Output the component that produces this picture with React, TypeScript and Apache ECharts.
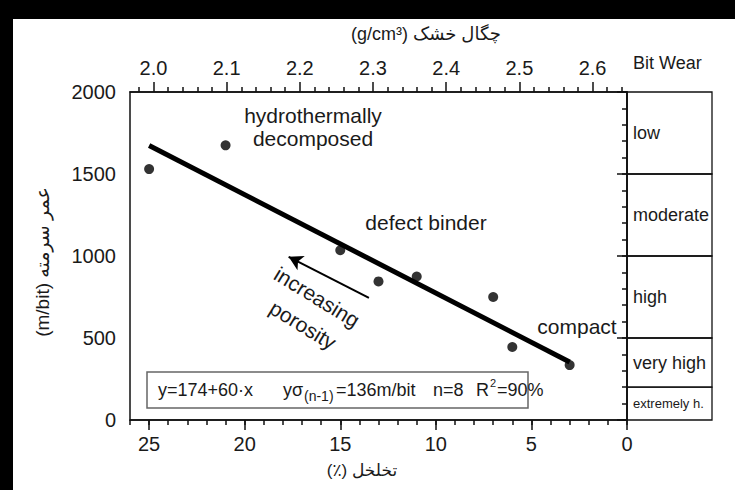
import React, { useEffect, useRef } from "react";
import * as echarts from "echarts";

// ---- data ----
const porosity = [25, 21, 15, 13, 11, 7, 6, 3];
const rop = [1530, 1675, 1035, 845, 875, 750, 445, 335];
const fitPorosity = [25, 3];
const fitRop = [1674, 354];
const arrowFrom = [13.5, 745];
const arrowTo = [17.7, 995];
const densityLabels = [2.0, 2.1, 2.2, 2.3, 2.4, 2.5, 2.6];
const densityMin = 1.968;
const densityMax = 2.647;
const bitWearLabels = ["low", "moderate", "high", "very high", "extremely h."];
const bitWearTop = [2000, 1500, 1000, 500, 200];
const bitWearBottom = [1500, 1000, 500, 200, 0];

const densityMinor: number[] = [];
for (let k = 99; k <= 132; k++) {
  if (k % 5 !== 0) densityMinor.push(Math.round(k * 2) / 100);
}

const FONT = "'Liberation Sans', Arial, 'DejaVu Sans', sans-serif";
const INK = "#1a1a1a";

function txt(text: string, x: number, y: number, size: number, extra: any = {}) {
  const align = extra.align || "center";
  return {
    type: "text",
    x,
    y,
    rotation: extra.rotation || 0,
    z: 10,
    style: {
      text,
      fontSize: size,
      fontFamily: FONT,
      fill: extra.fill || INK,
      fontWeight: extra.weight || "normal",
      align,
      textAlign: align,
      verticalAlign: "middle",
      textVerticalAlign: "middle",
    },
  };
}

export default function App() {
  const ref = useRef<HTMLDivElement>(null);
  useEffect(() => {
    if (!ref.current) return;
    const chart = echarts.init(ref.current, undefined, { renderer: "svg" });
    const axisLineStyle = { color: "#111", width: 1.5 };
    const option: any = {
      animation: false,
      backgroundColor: "#fff",
      grid: [
        { left: 130, right: 108, top: 92, bottom: 70, show: true, borderColor: "#111", borderWidth: 1.5, backgroundColor: "transparent" },
        { left: 627, right: 23, top: 92, bottom: 70 },
      ],
      xAxis: [
        {
          gridIndex: 0, type: "value", position: "bottom", min: 0, max: 26, inverse: true, interval: 5,
          axisLine: { show: true, lineStyle: axisLineStyle },
          axisTick: { show: true, length: 10, lineStyle: axisLineStyle },
          axisLabel: { fontSize: 20, color: INK, margin: 14, fontFamily: FONT, showMaxLabel: false },
          splitLine: { show: false },
        },
        {
          gridIndex: 0, type: "value", position: "bottom", min: 0, max: 26, inverse: true, interval: 1,
          axisLine: { show: false },
          axisTick: { show: true, length: 5, lineStyle: axisLineStyle },
          axisLabel: { show: false },
          splitLine: { show: false },
        },
        {
          gridIndex: 0, type: "value", position: "top", min: densityMin, max: densityMax,
          axisLine: { show: true, lineStyle: axisLineStyle },
          axisTick: { show: true, length: 10, lineStyle: axisLineStyle, customValues: densityLabels },
          axisLabel: {
            fontSize: 20, color: INK, margin: 14, fontFamily: FONT, customValues: densityLabels,
            formatter: (v: number) => v.toFixed(1),
          },
          splitLine: { show: false },
        },
        {
          gridIndex: 0, type: "value", position: "top", min: densityMin, max: densityMax,
          axisLine: { show: false },
          axisTick: { show: true, length: 5, lineStyle: axisLineStyle, customValues: densityMinor },
          axisLabel: { show: false },
          splitLine: { show: false },
        },
        { gridIndex: 1, type: "value", min: 0, max: 1, show: false },
      ],
      yAxis: [
        {
          gridIndex: 0, type: "value", position: "left", min: 0, max: 2000, interval: 500,
          axisLine: { show: true, lineStyle: axisLineStyle },
          axisTick: { show: true, length: 10, lineStyle: axisLineStyle },
          axisLabel: { fontSize: 20, color: INK, margin: 14, fontFamily: FONT, formatter: (v: number) => String(v) },
          splitLine: { show: false },
        },
        {
          gridIndex: 0, type: "value", position: "left", min: 0, max: 2000, interval: 100,
          axisLine: { show: false },
          axisTick: { show: true, length: 5, lineStyle: axisLineStyle },
          axisLabel: { show: false },
          splitLine: { show: false },
        },
        { gridIndex: 1, type: "value", min: 0, max: 2000, show: false },
      ],
      series: [
        {
          type: "line",
          xAxisIndex: 0,
          yAxisIndex: 0,
          data: fitPorosity.map((p, i) => [p, fitRop[i]]),
          symbol: "none",
          lineStyle: { color: "#000", width: 5 },
          z: 3,
        },
        {
          type: "scatter",
          xAxisIndex: 0,
          yAxisIndex: 0,
          data: porosity.map((p, i) => [p, rop[i]]),
          symbol: "circle",
          symbolSize: 10,
          itemStyle: { color: "#000" },
          z: 4,
          markLine: {
            silent: true,
            symbol: ["none", "arrow"],
            symbolSize: [12, 14],
            label: { show: false },
            lineStyle: { color: "#000", width: 2, type: "solid" },
            data: [[{ coord: arrowFrom }, { coord: arrowTo }]],
          },
        },
        {
          type: "custom",
          xAxisIndex: 4,
          yAxisIndex: 2,
          clip: false,
          data: bitWearLabels.map((_, i) => [bitWearBottom[i], bitWearTop[i], i]),
          renderItem: (params: any, api: any) => {
            const lo = api.value(0);
            const hi = api.value(1);
            const i = api.value(2);
            const p0 = api.coord([0, hi]);
            const p1 = api.coord([1, lo]);
            const small = i === 4;
            return {
              type: "group",
              children: [
                {
                  type: "rect",
                  shape: { x: p0[0], y: p0[1], width: p1[0] - p0[0], height: p1[1] - p0[1] },
                  style: { fill: "none", stroke: "#111", lineWidth: 1.3 },
                },
                {
                  type: "text",
                  x: p0[0] + 6,
                  y: (p0[1] + p1[1]) / 2,
                  style: {
                    text: bitWearLabels[i],
                    fontSize: small ? 13 : 18,
                    fontFamily: FONT,
                    fill: INK,
                    align: "left",
                    textAlign: "left",
                    verticalAlign: "middle",
                    textVerticalAlign: "middle",
                  },
                },
              ],
            };
          },
        },
      ],
      graphic: [
        { type: "rect", shape: { x: 0, y: 0, width: 735, height: 19 }, style: { fill: "#000" }, z: 20 },
        { type: "rect", shape: { x: 0, y: 0, width: 13, height: 490 }, style: { fill: "#000" }, z: 20 },
        txt("(g/cm³) چگال خشک", 426, 34, 18),
        txt("(m/bit) عمر سرمته", 42, 262, 19, { rotation: Math.PI / 2 }),
        txt("(٪) تخلخل", 362, 470, 17),
        txt("Bit Wear", 633, 63, 18, { align: "left" }),
        txt("hydrothermally", 313, 115, 21),
        txt("decomposed", 313, 138, 21),
        txt("defect binder", 426, 222, 21),
        txt("compact", 577, 326, 21),
        txt("increasing", 317, 297, 21, { rotation: -0.55 }),
        txt("porosity", 303, 325, 21, { rotation: -0.55 }),
        {
          type: "rect",
          shape: { x: 147, y: 372, width: 381, height: 36 },
          style: { fill: "#fff", stroke: "#666", lineWidth: 1.5 },
          z: 9,
        },
        txt("y=174+60·x", 158, 390, 18, { align: "left" }),
        txt("yσ", 283, 390, 18, { align: "left" }),
        txt("(n-1)", 304, 396, 14, { align: "left" }),
        txt("=136m/bit", 336, 390, 18, { align: "left" }),
        txt("n=8", 433, 390, 18, { align: "left" }),
        txt("R", 476, 390, 18, { align: "left" }),
        txt("2", 490, 383, 11, { align: "left" }),
        txt("=90%", 497, 390, 18, { align: "left" }),
      ],
    };
    chart.setOption(option);
    return () => chart.dispose();
  }, []);
  return <div ref={ref} style={{ width: 735, height: 490, position: "absolute", left: 0, top: 0 }} />;
}
